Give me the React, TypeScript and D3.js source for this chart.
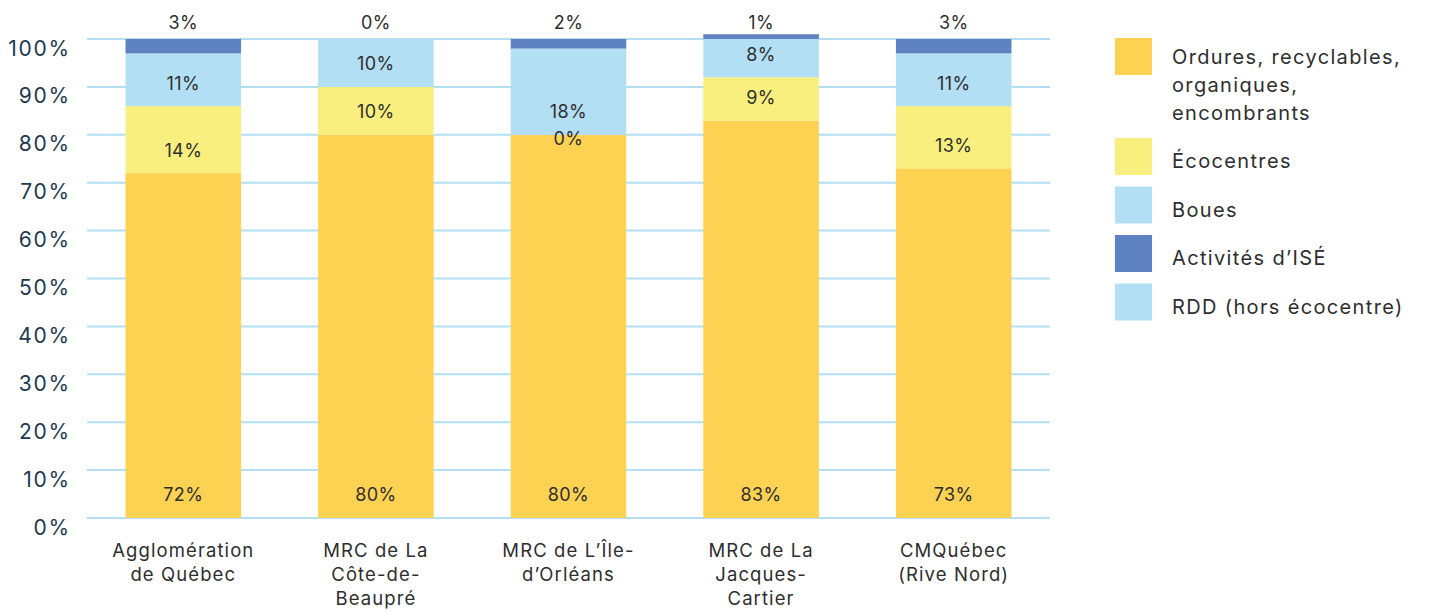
import { useMemo } from 'react';
import * as d3 from 'd3';

const categories = [
  ['Agglomération', 'de Québec'],
  ['MRC de La', 'Côte-de-', 'Beaupré'],
  ['MRC de L’Île-', 'd’Orléans'],
  ['MRC de La', 'Jacques-', 'Cartier'],
  ['CMQuébec', '(Rive Nord)'],
];

const ordures = [72, 80, 80, 83, 73];
const ecocentres = [14, 10, 0, 9, 13];
const boues = [11, 10, 18, 8, 11];
const activitesIse = [3, 0, 2, 1, 3];
const rdd = [0, 0, 0, 0, 0];

const seriesNames = [
  ['Ordures, recyclables,', 'organiques,', 'encombrants'],
  ['Écocentres'],
  ['Boues'],
  ['Activités d’ISÉ'],
  ['RDD (hors écocentre)'],
];
const seriesKeys = ['ordures', 'ecocentres', 'boues', 'ise', 'rdd'];
const colors = ['#fdd152', '#f9ef7e', '#b3dff5', '#5f83c2', '#b3dff5'];

const yTicks = [0, 10, 20, 30, 40, 50, 60, 70, 80, 90, 100];

const W = 1429;
const H = 612;
const margin = { top: 39, right: 379, bottom: 94, left: 87 };

export default function App() {
  const rows = useMemo(
    () =>
      categories.map((c, i) => ({
        idx: i,
        ordures: ordures[i],
        ecocentres: ecocentres[i],
        boues: boues[i],
        ise: activitesIse[i],
        rdd: rdd[i],
      })),
    []
  );

  const x = d3
    .scaleBand<number>()
    .domain(rows.map((r) => r.idx))
    .range([margin.left, W - margin.right])
    .paddingInner(0.4)
    .paddingOuter(0.2);

  const y = d3.scaleLinear().domain([0, 100]).range([H - margin.bottom, margin.top]);

  const stacked = d3.stack<any>().keys(seriesKeys)(rows);

  const textColor = '#2e2e2e';
  const axisColor = '#1c3a50';
  const font = 'Inter, "Noto Sans", sans-serif';

  return (
    <div style={{ position: 'absolute', left: 0, top: 0 }}>
      <svg width={W} height={H} style={{ display: 'block', background: '#fff' }} fontFamily={font}>
        {/* gridlines */}
        {yTicks.map((t) => (
          <line
            key={t}
            x1={margin.left}
            x2={W - margin.right}
            y1={y(t)}
            y2={y(t)}
            stroke="#b3dff5"
            strokeWidth={2}
          />
        ))}
        {yTicks.map((t) => (
          <text
            key={'l' + t}
            x={71}
            y={y(t) + 9}
            dy="0.36em"
            textAnchor="end"
            fontSize={21}
            letterSpacing={1.8}
            fill={axisColor}
          >
            {t}%
          </text>
        ))}

        {/* bars */}
        {stacked.map((s, si) => (
          <g key={s.key} fill={colors[si]}>
            {s.map((d, i) => (
              <rect
                key={i}
                x={x(i)}
                width={x.bandwidth()}
                y={y(d[1])}
                height={Math.max(0, y(d[0]) - y(d[1]))}
              />
            ))}
          </g>
        ))}

        {/* value labels: inside base, ISÉ above the bar */}
        {stacked.map((s, si) =>
          si === 4
            ? null
            : s.map((d, i) => {
                const v = d[1] - d[0];
                const ly =
                  si === 3 ? y(100) - 16 : Math.max(y(d[0]) - 23, y(d[1]) + 4);
                return (
                  <text
                    key={s.key + i}
                    x={(x(i) as number) + x.bandwidth() / 2}
                    y={ly}
                    dy="0.36em"
                    textAnchor="middle"
                    fontSize={18}
                    letterSpacing={0.4}
                    fill={textColor}
                  >
                    {Math.round(v)}%
                  </text>
                );
              })
        )}

        {/* category labels */}
        {categories.map((lines, i) => (
          <text
            key={'c' + i}
            textAnchor="middle"
            fontSize={18.5}
            letterSpacing={1.1}
            fill={textColor}
          >
            {lines.map((ln, li) => (
              <tspan key={li} x={(x(i) as number) + x.bandwidth() / 2} y={557 + li * 24}>
                {ln}
              </tspan>
            ))}
          </text>
        ))}

        {/* legend */}
        {seriesNames.map((lines, i) => {
          const top = i === 0 ? 38 : 138 + (i - 1) * 48.5;
          const base = i === 0 ? top + 26 : top + 30;
          return (
            <g key={'lg' + i}>
              <rect x={1115} y={top} width={37} height={37} fill={colors[i]} />
              <text fontSize={20} letterSpacing={1.35} fill={textColor}>
                {lines.map((ln, li) => (
                  <tspan key={li} x={1172} y={base + li * 28}>
                    {ln}
                  </tspan>
                ))}
              </text>
            </g>
          );
        })}
      </svg>
    </div>
  );
}
